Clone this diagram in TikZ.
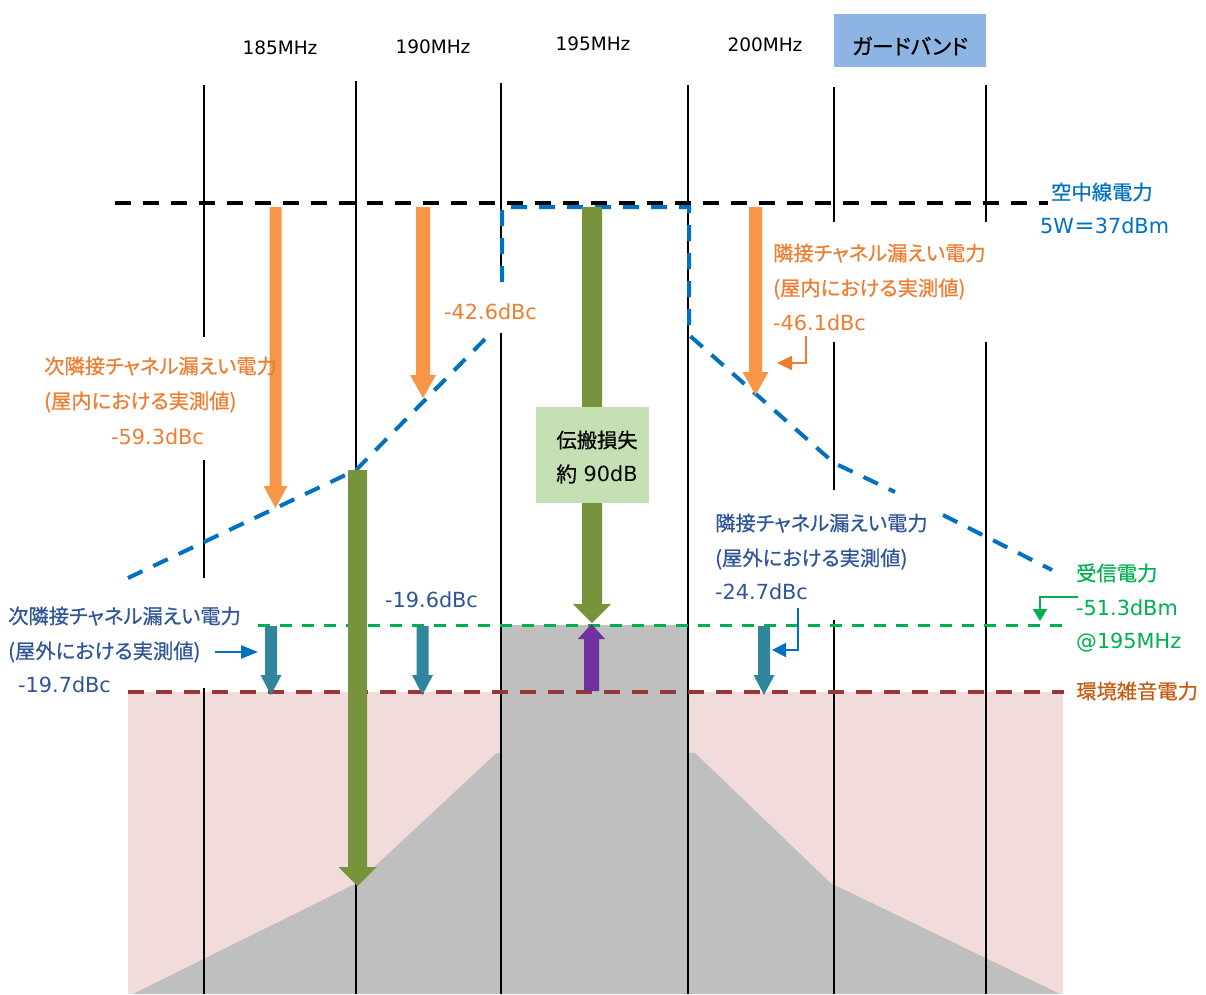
\documentclass[tikz,border=0pt]{standalone}
\usepackage{fontspec}
\setmainfont{DejaVu Sans}
\newfontfamily\jpf[RawFeature=+palt, RawFeature={embolden=0.6}]{Noto Sans CJK JP}
\usetikzlibrary{arrows.meta}
\definecolor{pinkbg}{HTML}{F2DCDB}
\definecolor{greyfill}{HTML}{BFBFBF}
\definecolor{orangeA}{HTML}{F79646}
\definecolor{orangeT}{HTML}{ED7D31}
\definecolor{olive}{HTML}{77933C}
\definecolor{boxgreen}{HTML}{C5E0B4}
\definecolor{tealA}{HTML}{31859C}
\definecolor{purpleA}{HTML}{7030A0}
\definecolor{blueD}{HTML}{0070C0}
\definecolor{greenD}{HTML}{00B050}
\definecolor{brownD}{HTML}{953735}
\definecolor{blueT}{HTML}{2F5597}
\definecolor{brownT}{HTML}{C55A11}
\definecolor{guardfill}{HTML}{8EB4E3}
\newcommand\fatarrowdn[7]{% color, x, ystart, ytip, shaft half, head half, head length
  \fill[#1] ({#2-#5},#3) -- ({#2+#5},#3) -- ({#2+#5},{#4-#7}) -- ({#2+#6},{#4-#7})
    -- (#2,#4) -- ({#2-#6},{#4-#7}) -- ({#2-#5},{#4-#7}) -- cycle;}
\tikzset{
  vline/.style={line width=2.7pt, black},
  vlinethin/.style={line width=2pt, black},
  bigdash/.style={line width=4pt, dash pattern=on 16pt off 12pt},
  smalldash/.style={line width=3pt, dash pattern=on 12pt off 10pt},
  lbl/.style={font=\fontsize{20.8}{24}\selectfont, inner sep=0pt, anchor=west},
  jplbl/.style={font=\jpf\fontsize{20.3}{24}\selectfont, inner sep=0pt, anchor=west},
  toplab/.style={font=\fontsize{18.5}{22}\selectfont, inner sep=0pt},
  pointer/.style={line width=2.2pt},
}
\begin{document}
\begin{tikzpicture}[x=1pt,y=-1pt]
\useasboundingbox (0,0) rectangle (1206,994);
% background regions
\fill[pinkbg] (128,692) rectangle (1063,994);
\fill[greyfill] (133,994) -- (357,883) -- (496.5,753) -- (501,753) -- (501,625)
  -- (688,625) -- (688,753) -- (695,753) -- (830.5,883) -- (1060,994) -- cycle;
% vertical frequency lines
\draw[vline] (204,85) -- (204,337) (204,460) -- (204,578) (204,688) -- (204,994);
\draw[vlinethin] (356,81) -- (356,994);
\draw[vline] (501,83) -- (501,282) (501,333) -- (501,994);
\draw[vline] (688,85) -- (688,994);
\draw[vlinethin] (834,87) -- (834,222) (834,342) -- (834,490) (834,620) -- (834,994);
\draw[vline] (986,85) -- (986,222) (986,342) -- (986,994);
% horizontal levels
\draw[bigdash, black] (115,203) -- (1048,203);
\draw[bigdash, blueD] (128,578) -- (356,470) -- (487,337);
\draw[bigdash, blueD] (502,282) -- (502,207) -- (689,207) -- (689,335) -- (834,463) -- (895,492);
\draw[bigdash, blueD] (943,515) -- (1052,570);
\draw[smalldash, greenD] (258,625) -- (1064,625);
\draw[bigdash, brownD] (128,692) -- (1064,692);
% fat arrows
\fatarrowdn{orangeA}{275.5}{207}{508}{6}{12}{22}
\fatarrowdn{orangeA}{423}{207}{398}{7}{13}{23}
\fatarrowdn{orangeA}{755.5}{207}{395}{6.5}{13}{23}
\fatarrowdn{olive}{357.5}{470}{886}{9.5}{19}{19}
\fatarrowdn{olive}{592}{207}{623}{10}{19}{19}
\fatarrowdn{purpleA}{591.5}{691}{624}{7.5}{13.5}{-15}
\fatarrowdn{tealA}{271}{626}{695}{6}{10.5}{20}
\fatarrowdn{tealA}{422.5}{626}{695}{6}{10.5}{20}
\fatarrowdn{tealA}{764}{626}{695}{6}{10.5}{20}
% propagation loss box
\node[fill=boxgreen, minimum width=113pt, minimum height=96pt, inner sep=0pt] (loss) at (592.5,455) {};
\node[jplbl, anchor=center] (lossa) at (597,440) {伝搬損失};
\node[lbl, anchor=center] (lossb) at (597,474) {{\jpf 約} 90dB};
% top frequency labels
\node[toplab] (f185) at (280,48) {185MHz};
\node[toplab] (f190) at (433,47) {190MHz};
\node[toplab] (f195) at (593,44) {195MHz};
\node[toplab] (f200) at (765,45) {200MHz};
\fill[guardfill] (834,14) rectangle (986,67);
\node[jplbl, anchor=center, font=\jpf\fontsize{21.5}{24}\selectfont] (guard) at (910,46) {ガードバンド};
% antenna power
\node[jplbl, blueD] (ant1) at (1051,192) {空中線電力};
\node[lbl, blueD] (ant2) at (1040,226) {5W{\jpf ＝}37dBm};
% left orange (indoor, second adjacent)
\node[jplbl, orangeT] (lo1) at (44,366) {次隣接チャネル漏えい電力};
\node[jplbl, orangeT] (lo2) at (44,402) {(屋内における実測値)};
\node[lbl, orangeT] (lo3) at (111,437) {-59.3dBc};
\node[lbl, orangeT] (mo) at (444,312) {-42.6dBc};
% right orange (indoor, adjacent)
\node[jplbl, orangeT] (ro1) at (773,253) {隣接チャネル漏えい電力};
\node[jplbl, orangeT] (ro2) at (773,289) {(屋内における実測値)};
\node[lbl, orangeT] (ro3) at (773,323) {-46.1dBc};
\coordinate (ro3p) at (806,336);
\coordinate (ro3t) at (777,363);
\draw[pointer, orangeT, -{Triangle[length=15pt,width=14pt]}] (ro3p) |- (ro3t);
% left blue (outdoor, second adjacent)
\node[jplbl, blueT] (lb1) at (8,616) {次隣接チャネル漏えい電力};
\node[jplbl, blueT] (lb2) at (8,652) {(屋外における実測値)};
\node[lbl, blueT] (lb3) at (18,685) {-19.7dBc};
\coordinate (lbs) at (215,652);
\coordinate (lbt) at (258,652);
\draw[line width=2pt, blueD, -{Triangle[length=17pt,width=13pt]}] (lbs) -- (lbt);
\node[lbl, blueT] (mb) at (385,600) {-19.6dBc};
% right blue (outdoor, adjacent)
\node[jplbl, blueT] (rb1) at (715,523) {隣接チャネル漏えい電力};
\node[jplbl, blueT] (rb2) at (715,559) {(屋外における実測値)};
\node[lbl, blueT] (rb3) at (715,592) {-24.7dBc};
\coordinate (rb3p) at (798,608);
\coordinate (rb3t) at (772,650);
\draw[line width=2pt, blueD, -{Triangle[length=14pt,width=14pt]}] (rb3p) |- (rb3t);
% received power
\node[jplbl, greenD] (rx1) at (1076,573) {受信電力};
\node[lbl, greenD] (rx2) at (1076,608) {-51.3dBm};
\node[lbl, greenD] (rx3) at (1076,643) {@195MHz};
\coordinate (rxp) at (1078,597);
\coordinate (rxt) at (1040,621);
\draw[pointer, greenD, -{Triangle[length=12pt,width=14pt]}] (rxp) -| (rxt);
% ambient noise
\node[jplbl, brownT] (noise) at (1076,691) {環境雑音電力};
\end{tikzpicture}
\end{document}
